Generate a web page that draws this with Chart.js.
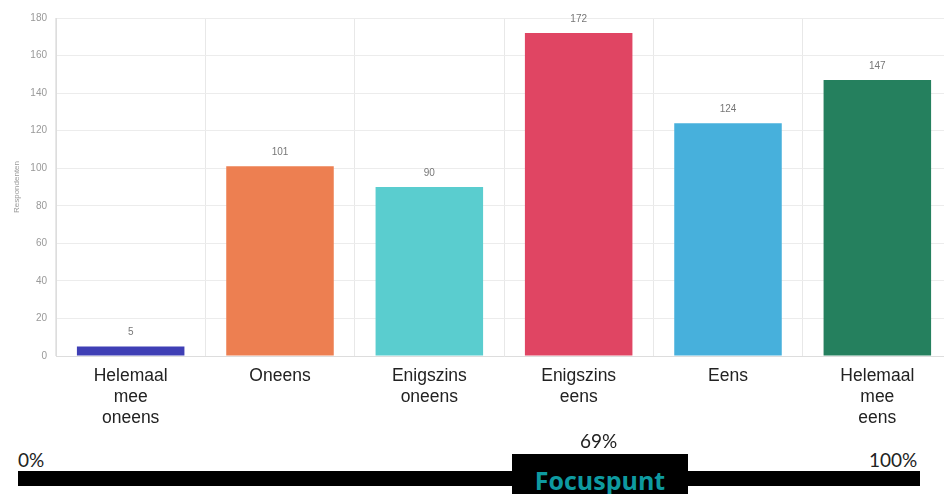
<!DOCTYPE html>
<html>
<head>
<meta charset="utf-8">
<script src="https://cdn.jsdelivr.net/npm/chart.js@4.4.1/dist/chart.umd.min.js"></script>
<style>
  body { margin: 0; background: #fff; overflow: hidden; }
  #wrap { position: relative; width: 944px; height: 494px; overflow: hidden; }
  #chart { position: absolute; left: 0; top: 0; }
  .pct { position: absolute; font-family: Lato, "Open Sans", sans-serif; font-size: 19px; color: #222; line-height: 1; }
  #bar { position: absolute; left: 18px; top: 471px; width: 902px; height: 15px; background: #000; }
  #focus { position: absolute; left: 512px; top: 454px; width: 176px; height: 40px; background: #000;
           color: #0e9aa0; font-family: "Open Sans", Lato, sans-serif; font-weight: bold;
           font-size: 25px; text-align: center; line-height: 52px; }
</style>
</head>
<body>
<div id="wrap">
  <canvas id="chart" width="960" height="430"></canvas>
  <div id="bar"></div>
  <div id="focus">Focuspunt</div>
  <div class="pct" style="left:18px; top:450px;">0%</div>
  <div class="pct" style="left:580px; top:431px;">69%</div>
  <div class="pct" style="left:869px; top:450px;">100%</div>
</div>
<script>
const categories = [
    ['Helemaal', 'mee', 'oneens'],
    'Oneens',
    ['Enigszins', 'oneens'],
    ['Enigszins', 'eens'],
    'Eens',
    ['Helemaal', 'mee', 'eens']
];
const respondents = [5, 101, 90, 172, 124, 147];
const barColors = ['#3f3fb5', '#ed7f51', '#5acdcf', '#e04563', '#47b0dc', '#25805e'];
const yTicks = [0, 20, 40, 60, 80, 100, 120, 140, 160, 180];

// value labels above each bar (no datalabels plugin available)
const valueLabels = {
    id: 'valueLabels',
    afterDatasetsDraw(chart) {
        const ctx = chart.ctx;
        const meta = chart.getDatasetMeta(0);
        ctx.save();
        ctx.font = '10px "Liberation Sans", Arial, sans-serif';
        ctx.fillStyle = '#777';
        ctx.textAlign = 'center';
        ctx.textBaseline = 'bottom';
        meta.data.forEach((bar, i) => {
            ctx.fillText(respondents[i], bar.x, bar.y - 9);
        });
        ctx.restore();
    }
};

new Chart(document.getElementById('chart').getContext('2d'), {
    type: 'bar',
    data: {
        labels: categories,
        datasets: [{
            data: respondents,
            backgroundColor: barColors,
            categoryPercentage: 1,
            barPercentage: 0.72
        }]
    },
    options: {
        responsive: false,
        animation: false,
        layout: { padding: { top: 18, right: 8, left: 8, bottom: 0 } },
        plugins: { legend: { display: false }, tooltip: { enabled: false } },
        scales: {
            x: {
                grid: { color: '#e8e8e8', offset: true, drawTicks: false },
                border: { color: '#ddd' },
                ticks: {
                    color: '#222',
                    font: { family: '"Liberation Sans", Arial, sans-serif', size: 17.5, lineHeight: 1.2 },
                    padding: 10,
                    maxRotation: 0,
                    autoSkip: false
                },
                afterFit(scale) { scale.height = 74; }
            },
            y: {
                min: 0,
                max: 180,
                afterBuildTicks(scale) { scale.ticks = yTicks.map(v => ({ value: v })); },
                grid: { color: '#ececec', drawTicks: false },
                border: { color: '#ddd' },
                ticks: {
                    color: '#999',
                    font: { family: '"Liberation Sans", Arial, sans-serif', size: 10 },
                    padding: 9
                },
                title: {
                    display: true,
                    text: 'Respondenten',
                    color: '#999',
                    padding: { top: 4, bottom: 0 },
                    font: { family: '"Liberation Sans", Arial, sans-serif', size: 8 }
                },
                afterFit(scale) { scale.width = 48; }
            }
        }
    },
    plugins: [valueLabels]
});
</script>
</body>
</html>
